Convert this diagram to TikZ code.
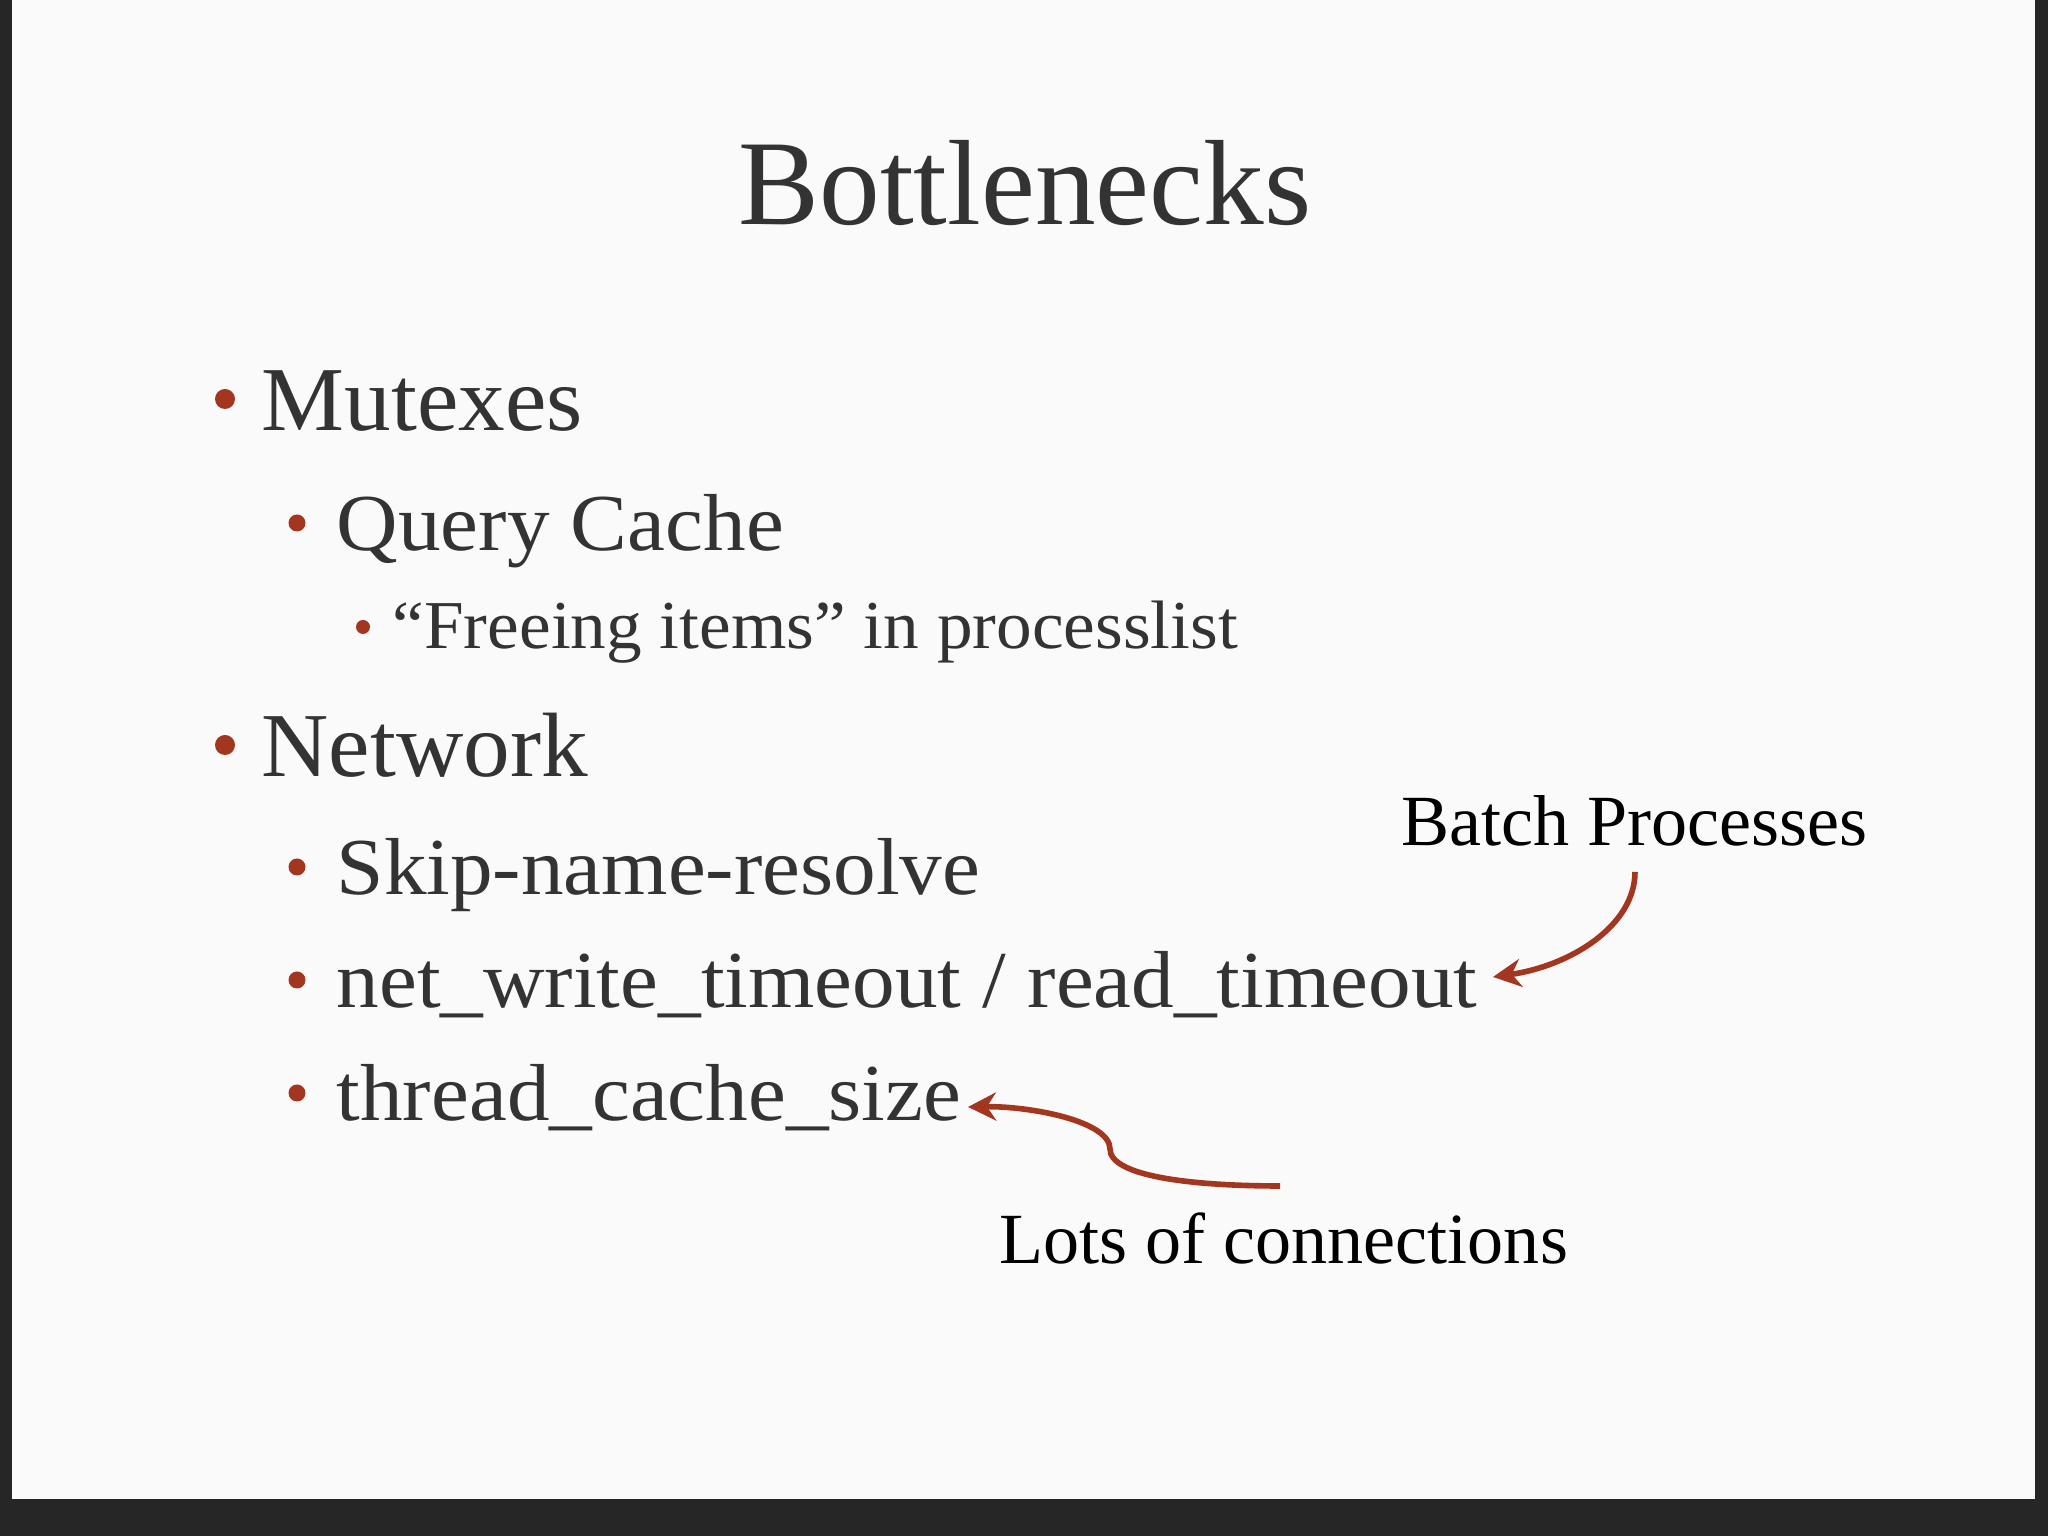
\documentclass[tikz,border=0pt]{standalone}
\usepackage{fontspec}
\setmainfont{Liberation Serif}
\usetikzlibrary{arrows.meta}
\definecolor{txt}{HTML}{333333}
\definecolor{acc}{HTML}{A3361F}
\tikzset{
  ttl/.style={anchor=base,text=txt,font=\fontsize{34.5}{40}\selectfont,inner sep=0},
  lone/.style={anchor=base west,text=txt,font=\fontsize{26}{30}\selectfont\addfontfeature{FakeStretch=1.02},inner sep=0},
  ltwo/.style={anchor=base west,text=txt,font=\fontsize{23}{27}\selectfont\addfontfeature{FakeStretch=1.054},inner sep=0},
  lthree/.style={anchor=base west,text=txt,font=\fontsize{19.5}{23}\selectfont\addfontfeature{FakeStretch=1.04},inner sep=0},
  note/.style={anchor=base west,text=black,font=\fontsize{20.5}{25}\selectfont,inner sep=0},
  dot/.style={circle,fill=acc,inner sep=0,minimum size=#1},
  arr/.style={draw=acc,line width=1.6pt,-{Stealth[length=8pt,width=8pt]}}
}
\begin{document}
\begin{tikzpicture}[x=1cm,y=1cm]
\useasboundingbox (0,0) rectangle (20.48,15.36);
\fill[black!85] (0,0) rectangle (20.48,15.36);
\fill[white!96!gray] (0.12,0.37) rectangle (20.35,15.36);
\node[ttl] (title) at (10.25,13.11) {Bottlenecks};
\node[dot=0.2cm] (b1) at (2.25,11.37) {};
\node[lone] (mut) at (2.61,11.05) {Mutexes};
\node[dot=0.17cm] (b2) at (2.97,10.13) {};
\node[ltwo] (qc) at (3.36,9.85) {Query Cache};
\node[dot=0.14cm] (b3) at (3.63,9.09) {};
\node[lthree] (fi) at (3.92,8.87) {“Freeing items” in processlist};
\node[dot=0.2cm] (b4) at (2.25,7.91) {};
\node[lone] (net) at (2.61,7.59) {Network};
\node[dot=0.17cm] (b5) at (2.97,6.69) {};
\node[ltwo] (skip) at (3.36,6.41) {Skip-name-resolve};
\node[dot=0.17cm] (b6) at (2.97,5.56) {};
\node[ltwo] (nwt) at (3.36,5.28) {net\_write\_timeout / read\_timeout};
\node[dot=0.17cm] (b7) at (2.97,4.43) {};
\node[ltwo] (tcs) at (3.36,4.15) {thread\_cache\_size};
\node[note] (batch) at (14.01,6.90) {Batch Processes};
\node[note] (lots) at (9.99,2.72) {Lots of connections};
\coordinate (a1s) at (16.35,6.64);
\coordinate (a1e) at (14.93,5.59);
\coordinate (a2s) at (12.80,3.50);
\coordinate (a2m) at (11.10,3.87);
\coordinate (a2e) at (9.68,4.29);
\draw[arr] (a1s) .. controls (16.35,6.1) and (15.7,5.7) .. (a1e);
\draw[arr] (a2s) .. controls (11.9,3.5) and (11.1,3.6) .. (a2m) .. controls (11.1,4.15) and (10.3,4.3) .. (a2e);
\end{tikzpicture}
\end{document}
